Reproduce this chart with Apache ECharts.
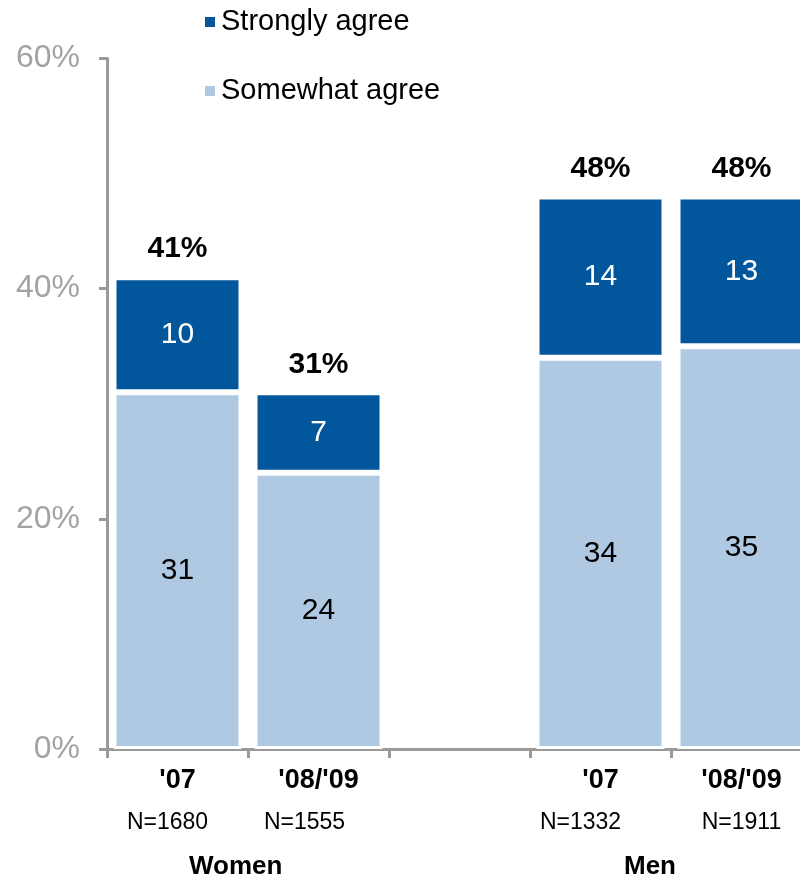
<!DOCTYPE html>
<html>
<head>
<meta charset="utf-8">
<style>
  html, body { margin: 0; padding: 0; background: #fff; }
  #chart { width: 800px; height: 884px; }
</style>
<script src="https://cdn.jsdelivr.net/npm/echarts@6/dist/echarts.min.js"></script>
</head>
<body>
<div id="chart"></div>
<script>
// Survey years per gender group (empty slot separates Women and Men)
const categories = ["'07", "'08/'09", "", "'07", "'08/'09"];
const sampleSizes = ['N=1680', 'N=1555', '', 'N=1332', 'N=1911'];
const somewhatAgree = [31, 24, '-', 34, 35];
const stronglyAgree = [10, 7, '-', 14, 13];
const yTicks = [0, 20, 40, 60];
const groups = ['Women', 'Men'];

const totals = somewhatAgree.map((v, i) => v === '-' ? '-' : v + stronglyAgree[i]);

const DARK = '#02569b';
const LIGHT = '#afc9e3';
const AXIS = '#9a9a9a';
const FONT = '"Liberation Sans", Arial, sans-serif';

// small left shifts for the sample-size line under each category
const nShift = [20, 28, 0, 40, 0];

const rich = {
  t: { fontFamily: FONT, fontSize: 27, fontWeight: 'bold', color: '#000', lineHeight: 42 }
};
nShift.forEach((s, i) => {
  rich['n' + i] = { fontFamily: FONT, fontSize: 23, color: '#000', lineHeight: 42, padding: [0, s, 0, 0] };
});

const chart = echarts.init(document.getElementById('chart'), null, { renderer: 'canvas' });

chart.setOption({
  animation: false,
  backgroundColor: '#fff',
  textStyle: { fontFamily: FONT },
  legend: {
    data: ['Strongly agree', 'Somewhat agree'],
    orient: 'vertical',
    left: 198,
    top: 0,
    itemWidth: 12,
    itemHeight: 12,
    itemGap: 35,
    icon: 'rect',
    selectedMode: false,
    textStyle: { fontFamily: FONT, fontSize: 29, color: '#000', lineHeight: 34 }
  },
  grid: {
    left: 107, top: 58.5, height: 690.5, width: 705,
    containLabel: false,
    outerBoundsMode: 'none'
  },
  xAxis: {
    type: 'category',
    data: categories,
    boundaryGap: true,
    axisLine: { lineStyle: { color: AXIS, width: 3 } },
    axisTick: { show: true, interval: 0, length: 9, lineStyle: { color: AXIS, width: 3 } },
    axisLabel: {
      interval: 0,
      margin: 11,
      formatter: (value, idx) => value ? '{t|' + value + '}\n{n' + idx + '|' + sampleSizes[idx] + '}' : '',
      rich: rich
    }
  },
  yAxis: {
    type: 'value',
    min: yTicks[0],
    max: yTicks[yTicks.length - 1],
    interval: 20,
    splitLine: { show: false },
    axisLine: { show: true, lineStyle: { color: AXIS, width: 3 } },
    axisTick: { show: true, length: 8, lineStyle: { color: AXIS, width: 3 } },
    axisLabel: {
      margin: 27,
      fontFamily: FONT,
      fontSize: 32,
      color: '#a3a3a3',
      formatter: v => v + '%'
    }
  },
  series: [
    {
      name: 'Somewhat agree',
      type: 'bar',
      stack: 'agree',
      barWidth: 128,
      data: somewhatAgree,
      itemStyle: { color: LIGHT, borderColor: '#fff', borderWidth: 3 },
      label: { show: true, position: 'inside', fontFamily: FONT, fontSize: 30, color: '#000' }
    },
    {
      name: 'Strongly agree',
      type: 'bar',
      stack: 'agree',
      barWidth: 128,
      data: stronglyAgree,
      itemStyle: { color: DARK, borderColor: '#fff', borderWidth: 3 },
      label: { show: true, position: 'inside', fontFamily: FONT, fontSize: 30, color: '#fff' }
    },
    {
      name: 'Total',
      type: 'bar',
      stack: 'agree',
      barWidth: 128,
      data: totals.map(t => t === '-' ? '-' : 0),
      itemStyle: { color: 'rgba(0,0,0,0)' },
      label: {
        show: true,
        position: 'top',
        distance: 13,
        fontFamily: FONT,
        fontSize: 30,
        fontWeight: 'bold',
        color: '#000',
        formatter: p => totals[p.dataIndex] + '%'
      }
    }
  ],
  graphic: [
    { type: 'text', left: 189, top: 854, style: { text: groups[0], font: 'bold 26px ' + FONT, fill: '#000' } },
    { type: 'text', left: 624, top: 854, style: { text: groups[1], font: 'bold 26px ' + FONT, fill: '#000' } }
  ]
});
</script>
</body>
</html>
